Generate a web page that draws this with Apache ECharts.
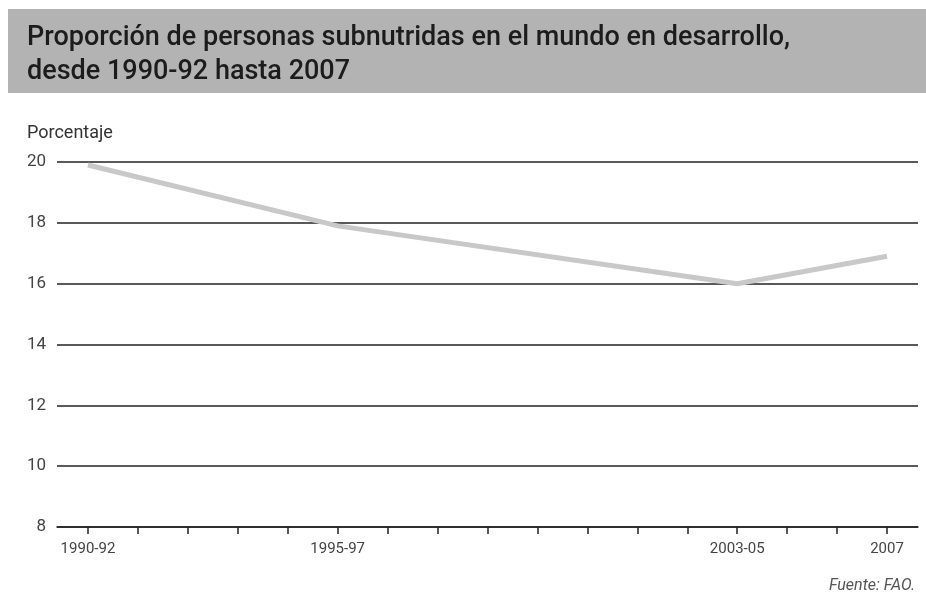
<!DOCTYPE html>
<html>
<head>
<meta charset="utf-8">
<script src="https://cdn.jsdelivr.net/npm/echarts@6/dist/echarts.min.js"></script>
<style>
html,body{margin:0;padding:0;background:#fff;}
#chart{width:926px;height:603px;}
</style>
</head>
<body>
<div id="chart"></div>
<script>
// Data
const years = [1991, 1996, 2004, 2007];          // period centres
const periodLabels = ['1990-92', '1995-97', '2003-05', '2007'];
const proportion = [19.9, 17.9, 16.0, 16.9];      // % undernourished
const tickYears = [1991,1992,1993,1994,1995,1996,1997,1998,1999,2000,2001,2002,2003,2004,2005,2006,2007];
const yTicks = [8, 10, 12, 14, 16, 18, 20];

const chart = echarts.init(document.getElementById('chart'), null, {renderer: 'canvas'});
const labelFor = {};
years.forEach((y, i) => { labelFor[y] = periodLabels[i]; });

const option = {
  backgroundColor: '#ffffff',
  animation: false,
  graphic: [
    {type: 'rect', left: 8, top: 9, shape: {width: 918, height: 84}, style: {fill: '#b3b3b3'}, z: 0},
    {type: 'text', left: 27, top: 21, z: 10,
      style: {text: 'Proporción de personas subnutridas en el mundo en desarrollo,\ndesde 1990-92 hasta 2007',
        font: '500 27px Roboto', fill: '#1c1c1c', lineHeight: 34}},
    {type: 'text', left: 27, top: 124, z: 10,
      style: {text: 'Porcentaje', font: '18px Roboto', fill: '#333', letterSpacing: 1}},
    {type: 'text', right: 11, top: 578, z: 10,
      style: {text: 'Fuente: FAO.', font: 'italic 16px Roboto', fill: '#555'}}
  ],
  grid: {left: 57, right: 8, top: 162, bottom: 76, containLabel: false},
  xAxis: {
    type: 'value', min: 1990.38, max: 2007.62,
    axisLine: {show: true, onZero: false, lineStyle: {color: '#222', width: 1.5}},
    axisTick: {show: true, inside: false, length: 7, customValues: tickYears, lineStyle: {color: '#222', width: 1.5}},
    axisLabel: {customValues: years, margin: 15, color: '#444', fontFamily: 'Roboto', fontSize: 15,
      letterSpacing: 0.7, formatter: v => labelFor[v] || ''},
    splitLine: {show: false}
  },
  yAxis: {
    type: 'value', min: 8, max: 20, interval: 2,
    axisLine: {show: false}, axisTick: {show: false},
    axisLabel: {margin: 11, color: '#444', fontFamily: 'Roboto', fontSize: 17,
      formatter: v => yTicks.includes(v) ? String(v) : ''},
    splitLine: {show: true, lineStyle: {color: '#222', width: 1.5}}
  },
  series: [{
    type: 'line',
    data: years.map((y, i) => [y, proportion[i]]),
    symbol: 'none',
    lineStyle: {color: '#c8c8c8', width: 5},
    z: 1
  }]
};
chart.setOption(option);
</script>
</body>
</html>
